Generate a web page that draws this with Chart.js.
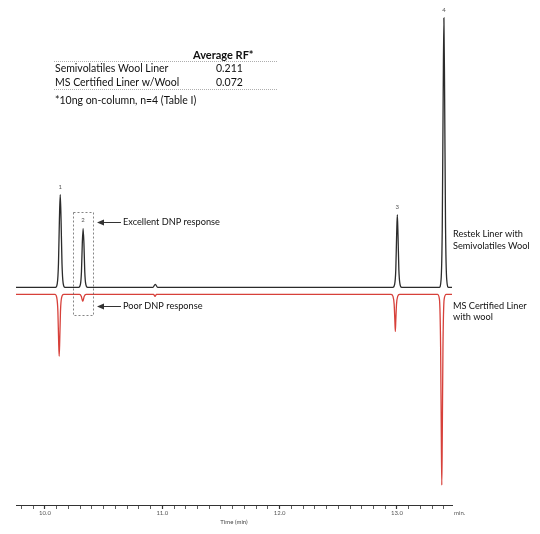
<!DOCTYPE html>
<html>
<head>
<meta charset="utf-8">
<script src="https://cdn.jsdelivr.net/npm/chart.js@4.4.1/dist/chart.umd.min.js"></script>
<style>
html,body{margin:0;padding:0;background:#fff;}
canvas{display:block;}
</style>
</head>
<body>
<canvas id="c" width="540" height="534"></canvas>
<script>
// Time axis (min)
const xMin = 9.753;
const xMax = 13.469;
const xTickStep = 0.1;

// Restek Liner with Semivolatiles Wool (black trace): time (min), response
const blackTimes = [9.753,
  10.09, 10.105, 10.115, 10.123, 10.13, 10.137, 10.145, 10.155, 10.17,
  10.287, 10.302, 10.311, 10.318, 10.325, 10.332, 10.339, 10.348, 10.363,
  10.92, 10.935, 10.94, 10.945, 10.96,
  12.965, 12.98, 12.99, 12.997, 13.003, 13.009, 13.016, 13.026, 13.04,
  13.36, 13.376, 13.386, 13.394, 13.40, 13.406, 13.414, 13.424, 13.44,
  13.469];
const blackValues = [0,
  0, 4, 24, 68, 93, 68, 24, 4, 0,
  0, 3, 16, 44, 59, 44, 16, 3, 0,
  0, 2.5, 3, 2.5, 0,
  0, 3, 18, 52, 73, 52, 18, 3, 0,
  0, 8, 60, 195, 270, 195, 60, 8, 0,
  0];

// MS Certified Liner with wool (red trace, drawn inverted and offset)
const redTimes = [9.753,
  10.085, 10.1, 10.11, 10.116, 10.121, 10.126, 10.132, 10.142, 10.16,
  10.295, 10.31, 10.322, 10.334, 10.35,
  10.925, 10.938, 10.95,
  12.95, 12.966, 12.976, 12.982, 12.986, 12.99, 12.996, 13.006, 13.022,
  13.345, 13.362, 13.372, 13.378, 13.382, 13.386, 13.392, 13.402, 13.42,
  13.469];
const redValues = [-7,
  -7, -10, -24, -52, -69, -52, -24, -10, -7,
  -7, -9, -14, -9, -7,
  -7, -9, -7,
  -7, -9, -17, -33, -44, -33, -17, -9, -7,
  -7, -12, -60, -150, -198, -150, -60, -12, -7,
  -7];

// Peak numbers and positions
const peakLabels = ['1', '2', '3', '4'];
const peakTimes = [10.13, 10.325, 13.003, 13.40];
const peakHeights = [93, 59, 73, 270];

// Table text
const tableHeader = 'Average RF*';
const tableRows = ['Semivolatiles Wool Liner', 'MS Certified Liner w/Wool'];
const tableValues = ['0.211', '0.072'];
const tableNote = '*10ng on-column, n=4 (Table I)';

const blackColor = '#2b2b2b';
const redColor = '#d7403a';
const font = 'Lato, "Open Sans", sans-serif';

const toXY = (ts, vs) => ts.map((t, i) => ({x: t, y: vs[i]}));

const annotations = {
  id: 'annotations',
  afterDraw(chart) {
    const ctx = chart.ctx;
    const xs = chart.scales.x, ys = chart.scales.y;
    const ca = chart.chartArea;
    ctx.save();
    // peak numbers
    ctx.fillStyle = '#555';
    ctx.font = '6px ' + font;
    ctx.textAlign = 'center';
    ctx.textBaseline = 'middle';
    peakLabels.forEach((l, i) => {
      ctx.fillText(l, xs.getPixelForValue(peakTimes[i]), ys.getPixelForValue(peakHeights[i]) - 8);
    });
    // dashed box around peak 2
    const bx0 = xs.getPixelForValue(10.239), bx1 = xs.getPixelForValue(10.409);
    const by0 = ys.getPixelForValue(76), by1 = ys.getPixelForValue(-27);
    ctx.strokeStyle = '#666';
    ctx.lineWidth = 0.8;
    ctx.setLineDash([2, 2]);
    ctx.strokeRect(Math.round(bx0) + 0.5, Math.round(by0) + 0.5, Math.round(bx1 - bx0), Math.round(by1 - by0));
    ctx.setLineDash([]);
    // arrows + labels
    const arrow = (y, text) => {
      const x0 = bx1 + 4, x1 = bx1 + 28;
      ctx.strokeStyle = '#333';
      ctx.fillStyle = '#333';
      ctx.lineWidth = 1;
      ctx.beginPath();
      ctx.moveTo(x0 + 5, y + 0.5);
      ctx.lineTo(x1, y + 0.5);
      ctx.stroke();
      ctx.beginPath();
      ctx.moveTo(x0, y + 0.5);
      ctx.lineTo(x0 + 7, y - 2.5);
      ctx.lineTo(x0 + 7, y + 3.5);
      ctx.closePath();
      ctx.fill();
      ctx.fillStyle = '#111';
      ctx.font = '9.2px ' + font;
      ctx.textAlign = 'left';
      ctx.textBaseline = 'middle';
      ctx.fillText(text, x1 + 2, y + 0.5);
    };
    arrow(Math.round(ys.getPixelForValue(66)), 'Excellent DNP response');
    arrow(Math.round(ys.getPixelForValue(-19)), 'Poor DNP response');
    // trace labels at right
    ctx.fillStyle = '#111';
    ctx.font = '9.2px ' + font;
    ctx.textAlign = 'left';
    ctx.textBaseline = 'middle';
    const rx = ca.right + 1;
    ctx.fillText('Restek Liner with', rx, ys.getPixelForValue(53));
    ctx.fillText('Semivolatiles Wool', rx, ys.getPixelForValue(41));
    ctx.fillText('MS Certified Liner', rx, ys.getPixelForValue(-19));
    ctx.fillText('with wool', rx, ys.getPixelForValue(-30));
    // "min." axis end label
    ctx.fillStyle = '#555';
    ctx.font = '6px ' + font;
    ctx.textAlign = 'left';
    ctx.fillText('min.', ca.right + 2, ca.bottom + 8);
    // table
    ctx.fillStyle = '#111';
    ctx.font = 'bold 11px ' + font;
    ctx.textAlign = 'left';
    ctx.fillText(tableHeader, 193, 55);
    ctx.font = '10.5px ' + font;
    ctx.fillText(tableRows[0], 55, 69);
    ctx.fillText(tableValues[0], 216, 69);
    ctx.fillText(tableRows[1], 55, 83);
    ctx.fillText(tableValues[1], 216, 83);
    ctx.fillText(tableNote, 55, 101);
    ctx.strokeStyle = '#999';
    ctx.lineWidth = 0.8;
    ctx.setLineDash([1, 1]);
    ctx.beginPath();
    ctx.moveTo(54, 61.5); ctx.lineTo(278, 61.5);
    ctx.moveTo(54, 89.5); ctx.lineTo(278, 89.5);
    ctx.stroke();
    ctx.restore();
  }
};

new Chart(document.getElementById('c'), {
  type: 'line',
  data: {
    datasets: [
      {data: toXY(blackTimes, blackValues), borderColor: blackColor, borderWidth: 1.3, pointRadius: 0, cubicInterpolationMode: 'monotone', fill: false},
      {data: toXY(redTimes, redValues), borderColor: redColor, borderWidth: 1.3, pointRadius: 0, cubicInterpolationMode: 'monotone', fill: false}
    ]
  },
  options: {
    responsive: false,
    animation: false,
    events: [],
    layout: {padding: {left: 16, right: 88, top: 0, bottom: 0}},
    plugins: {legend: {display: false}, tooltip: {enabled: false}},
    scales: {
      x: {
        type: 'linear',
        min: xMin,
        max: xMax,
        border: {display: true, color: '#333', width: 1},
        grid: {display: true, drawOnChartArea: false, drawTicks: true, tickLength: 4, tickColor: '#333',
               tickWidth: c => (Math.abs(c.tick.value - Math.round(c.tick.value)) < 1e-6 ? 1.2 : 0.8)},
        ticks: {
          stepSize: xTickStep,
          includeBounds: false,
          autoSkip: false,
          maxRotation: 0,
          padding: 1,
          color: '#555',
          font: {size: 6, family: font, lineHeight: 1},
          callback: v => (Math.abs(v - Math.round(v)) < 1e-6 ? v.toFixed(1) : '')
        },
        title: {display: true, text: 'Time (min)', color: '#444', font: {size: 6, family: font, lineHeight: 1}, padding: {top: 2, bottom: 9}}
      },
      y: {
        display: false,
        min: -218,
        max: 288
      }
    }
  },
  plugins: [annotations]
});
</script>
</body>
</html>
